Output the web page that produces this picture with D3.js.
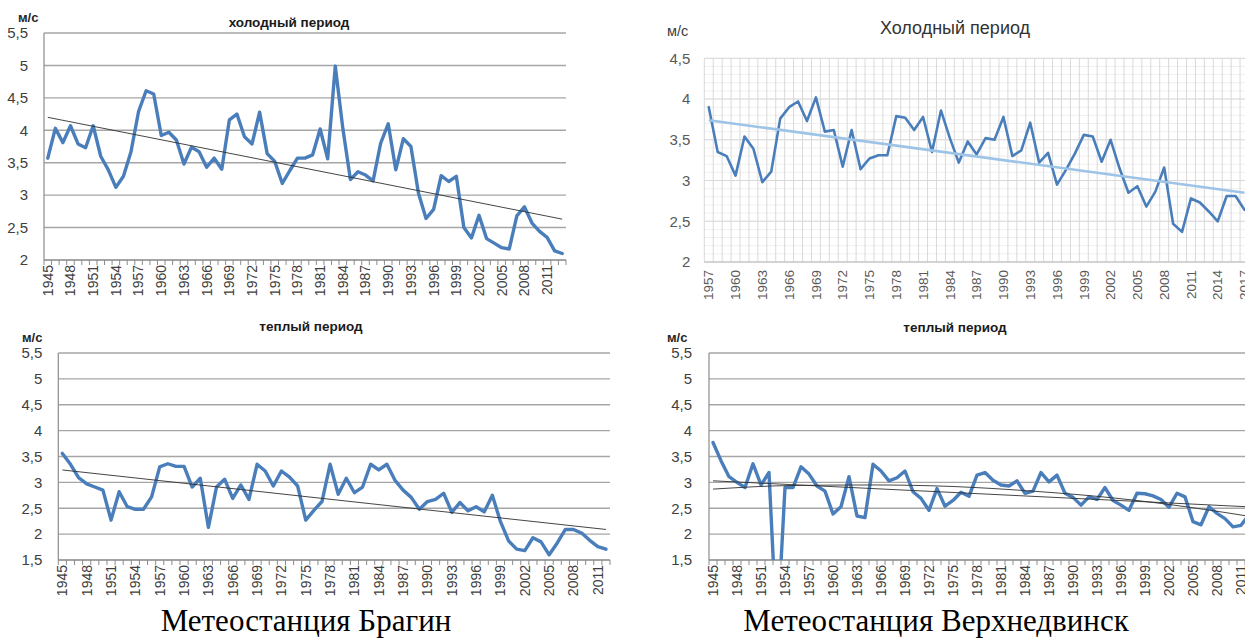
<!DOCTYPE html>
<html>
<head>
<meta charset="utf-8">
<script src="https://cdn.jsdelivr.net/npm/d3@7/dist/d3.min.js"></script>
<style>
  html, body { margin: 0; padding: 0; background: #fff; }
  svg { display: block; }
</style>
</head>
<body>
<script>
// Средняя скорость ветра (м/с) по периодам года, метеостанции Брагин и Верхнедвинск

// Брагин, холодный период
const braginColdYears = d3.range(1945, 2014);
const braginCold = [
  3.57, 4.03, 3.81, 4.07, 3.79, 3.73, 4.07, 3.60, 3.39, 3.12,
  3.29, 3.67, 4.29, 4.61, 4.56, 3.92, 3.97, 3.85, 3.48, 3.74,
  3.67, 3.43, 3.57, 3.40, 4.16, 4.25, 3.90, 3.79, 4.28, 3.64,
  3.52, 3.18, 3.38, 3.57, 3.57, 3.62, 4.02, 3.56, 4.99, 4.03,
  3.24, 3.36, 3.31, 3.22, 3.80, 4.10, 3.39, 3.87, 3.75, 3.03,
  2.64, 2.78, 3.30, 3.21, 3.29, 2.50, 2.34, 2.69, 2.33, 2.26,
  2.19, 2.17, 2.68, 2.82, 2.57, 2.44, 2.35, 2.14, 2.10
];
const braginColdTrend = [4.20, 2.63];          // линейный тренд: первый и последний год

// Верхнедвинск, холодный период
const verkhColdYears = d3.range(1957, 2018);
const verkhCold = [
  3.90, 3.35, 3.30, 3.06, 3.54, 3.39, 2.98, 3.11, 3.76, 3.90,
  3.97, 3.73, 4.02, 3.60, 3.62, 3.17, 3.62, 3.14, 3.27, 3.31,
  3.31, 3.79, 3.77, 3.62, 3.78, 3.35, 3.86, 3.52, 3.22, 3.48,
  3.32, 3.52, 3.50, 3.78, 3.30, 3.37, 3.71, 3.22, 3.34, 2.95,
  3.13, 3.33, 3.56, 3.54, 3.23, 3.50, 3.15, 2.85, 2.93, 2.68,
  2.86, 3.16, 2.47, 2.37, 2.78, 2.73, 2.62, 2.50, 2.81, 2.81,
  2.64
];
const verkhColdTrend = [3.74, 2.85];

// Брагин, теплый период
const braginWarmYears = d3.range(1945, 2013);
const braginWarm = [
  3.56, 3.35, 3.09, 2.97, 2.91, 2.85, 2.27, 2.82, 2.53, 2.48,
  2.48, 2.72, 3.30, 3.36, 3.31, 3.31, 2.91, 3.08, 2.13, 2.91,
  3.06, 2.69, 2.95, 2.67, 3.35, 3.22, 2.93, 3.22, 3.10, 2.93,
  2.27, 2.46, 2.63, 3.35, 2.77, 3.08, 2.80, 2.91, 3.35, 3.24,
  3.35, 3.04, 2.85, 2.71, 2.48, 2.63, 2.67, 2.79, 2.42, 2.61,
  2.45, 2.53, 2.43, 2.75, 2.24, 1.87, 1.71, 1.68, 1.93, 1.85,
  1.60, 1.83, 2.09, 2.09, 2.02, 1.88, 1.76, 1.71
];
const braginWarmTrend = [3.24, 2.09];

// Верхнедвинск, теплый период (1953 г. — 0)
const verkhWarmYears = d3.range(1945, 2014);
const verkhWarm = [
  3.77, 3.42, 3.11, 3.00, 2.90, 3.36, 2.95, 3.19, 0.00, 2.90,
  2.90, 3.30, 3.16, 2.93, 2.83, 2.39, 2.53, 3.11, 2.35, 2.32,
  3.35, 3.22, 3.03, 3.09, 3.22, 2.82, 2.69, 2.46, 2.88, 2.54,
  2.65, 2.81, 2.73, 3.14, 3.19, 3.04, 2.95, 2.93, 3.03, 2.79,
  2.83, 3.19, 3.01, 3.14, 2.79, 2.71, 2.56, 2.72, 2.67, 2.90,
  2.65, 2.56, 2.46, 2.79, 2.78, 2.74, 2.67, 2.52, 2.79, 2.72,
  2.24, 2.18, 2.53, 2.40, 2.30, 2.14, 2.17, 2.37, 2.30
];
const verkhWarmTrend = [3.03, 2.52];
// полиномиальный тренд
const verkhWarmPolyYears = [1945, 1955, 1965, 1975, 1985, 1995, 2005, 2013];
const verkhWarmPoly = [2.87, 2.94, 2.95, 2.92, 2.83, 2.70, 2.51, 2.32];

// деления оси значений
const coldTicksBragin = [2, 2.5, 3, 3.5, 4, 4.5, 5, 5.5];
const coldTicksVerkh = [2, 2.5, 3, 3.5, 4, 4.5];
const warmTicks = [1.5, 2, 2.5, 3, 3.5, 4, 4.5, 5, 5.5];

const unitLabel = "м/с";
const captions = ["Метеостанция Брагин", "Метеостанция Верхнедвинск"];

const W = 1245, H = 638;
const svg = d3.select("body").append("svg")
  .attr("width", W).attr("height", H)
  .attr("viewBox", `0 0 ${W} ${H}`);

const fmt = v => String(v).replace(".", ",");
const sans = "'Liberation Sans', Arial, sans-serif";

let clipId = 0;

function drawPanel(o) {
  const g = svg.append("g");
  const x = d3.scaleBand().domain(o.years).range([o.left, o.right]).padding(0);
  const y = d3.scaleLinear().domain(d3.extent(o.ticks)).range([o.bottom, o.top]);
  const cx = d => x(d) + x.bandwidth() / 2;
  const bounds = o.years.map(d => x(d)).concat([o.right]);
  const modern = o.modern;

  if (modern) {
    // мелкая сетка
    const minor = d3.range(Math.round(o.ticks[0] * 10), Math.round(o.ticks[o.ticks.length - 1] * 10) + 1)
      .map(v => v / 10);
    g.append("g").selectAll("line").data(minor).join("line")
      .attr("x1", o.left).attr("x2", o.right)
      .attr("y1", d => y(d)).attr("y2", d => y(d))
      .attr("stroke", "#efefef").attr("stroke-width", 1);
    g.append("g").selectAll("line").data(bounds).join("line")
      .attr("x1", d => d).attr("x2", d => d)
      .attr("y1", o.top).attr("y2", o.bottom)
      .attr("stroke", "#d9d9d9").attr("stroke-width", 1);
    g.append("g").selectAll("line").data(o.ticks).join("line")
      .attr("x1", o.left).attr("x2", o.right)
      .attr("y1", d => y(d)).attr("y2", d => y(d))
      .attr("stroke", "#d9d9d9").attr("stroke-width", 1);
    g.append("line")
      .attr("x1", o.left).attr("x2", o.right)
      .attr("y1", o.bottom).attr("y2", o.bottom)
      .attr("stroke", "#bfbfbf").attr("stroke-width", 1);
  } else {
    g.append("g").selectAll("line").data(o.ticks).join("line")
      .attr("x1", o.left).attr("x2", o.right)
      .attr("y1", d => y(d)).attr("y2", d => y(d))
      .attr("stroke", "#a6a6a6").attr("stroke-width", 1.4);
    g.append("line")
      .attr("x1", o.left).attr("x2", o.left)
      .attr("y1", o.top).attr("y2", o.bottom)
      .attr("stroke", "#8c8c8c").attr("stroke-width", 1.2);
    g.append("line")
      .attr("x1", o.left).attr("x2", o.right)
      .attr("y1", o.bottom).attr("y2", o.bottom)
      .attr("stroke", "#8c8c8c").attr("stroke-width", 1.2);
    g.append("g").selectAll("line").data(bounds).join("line")
      .attr("x1", d => d).attr("x2", d => d)
      .attr("y1", o.bottom).attr("y2", o.bottom + 5)
      .attr("stroke", "#8c8c8c").attr("stroke-width", 1);
  }

  // ось значений
  const yAxis = d3.axisLeft(y).tickValues(o.ticks).tickFormat(fmt)
    .tickSize(0).tickPadding(o.yPad);
  g.append("g").attr("transform", `translate(${o.left},0)`).call(yAxis)
    .call(s => s.select(".domain").remove())
    .selectAll("text")
    .attr("font-family", sans).attr("font-size", o.yFont)
    .attr("fill", modern ? "#595959" : "#404040");

  // ось годов
  const labelYears = o.years.filter((d, i) => i % 3 === 0);
  const xAxis = d3.axisBottom(x).tickValues(labelYears).tickSize(0).tickPadding(0);
  g.append("g").attr("transform", `translate(0,${o.bottom})`).call(xAxis)
    .call(s => s.select(".domain").remove())
    .selectAll("text")
    .attr("font-family", sans).attr("font-size", o.xFont)
    .attr("fill", modern ? "#595959" : "#404040")
    .attr("transform", "rotate(-90)")
    .attr("x", -o.xPad).attr("y", 0).attr("dy", "0.35em")
    .attr("text-anchor", "end");

  // ряд данных
  const id = "clip" + (clipId++);
  svg.append("clipPath").attr("id", id).append("rect")
    .attr("x", o.left).attr("y", o.top - 10)
    .attr("width", o.right - o.left).attr("height", o.bottom - o.top + 10);
  const plot = g.append("g").attr("clip-path", `url(#${id})`);

  const line = d3.line().x((d, i) => cx(o.years[i])).y(d => y(d));
  plot.append("path").datum(o.values)
    .attr("d", line)
    .attr("fill", "none")
    .attr("stroke", "#4a7ebb")
    .attr("stroke-width", modern ? 2.6 : 3.4)
    .attr("stroke-linejoin", "round")
    .attr("stroke-linecap", "round");

  // линии тренда
  const first = o.years[0], last = o.years[o.years.length - 1];
  plot.append("line")
    .attr("x1", cx(first)).attr("y1", y(o.trend[0]))
    .attr("x2", cx(last)).attr("y2", y(o.trend[1]))
    .attr("stroke", modern ? "#9dc3e6" : "#303030")
    .attr("stroke-width", modern ? 2.6 : 0.9);

  if (o.poly) {
    const pl = d3.line().curve(d3.curveMonotoneX)
      .x((d, i) => cx(o.poly.years[i])).y(d => y(d));
    plot.append("path").datum(o.poly.values)
      .attr("d", pl).attr("fill", "none")
      .attr("stroke", "#303030").attr("stroke-width", 0.9);
  }

  // заголовок и единицы
  g.append("text")
    .attr("x", o.titleX).attr("y", o.titleY)
    .attr("text-anchor", "middle")
    .attr("font-family", sans)
    .attr("font-size", o.titleFont)
    .attr("font-weight", modern ? "normal" : "bold")
    .attr("fill", modern ? "#333" : "#1a1a1a")
    .text(o.title);
  g.append("text")
    .attr("x", o.unitX).attr("y", o.unitY)
    .attr("font-family", sans)
    .attr("font-size", o.unitFont)
    .attr("font-weight", modern ? "normal" : "bold")
    .attr("fill", modern ? "#404040" : "#262626")
    .text(unitLabel);
}

drawPanel({
  years: braginColdYears, values: braginCold, trend: braginColdTrend,
  ticks: coldTicksBragin,
  left: 44, right: 566, top: 33, bottom: 260,
  yPad: 16, yFont: 15, xFont: 14, xPad: 5,
  title: "холодный период", titleX: 289, titleY: 27, titleFont: 13.5,
  unitX: 18, unitY: 22, unitFont: 13
});

drawPanel({
  years: verkhColdYears, values: verkhCold, trend: verkhColdTrend,
  ticks: coldTicksVerkh, modern: true,
  left: 704.3, right: 1249, top: 58.3, bottom: 262,
  yPad: 14, yFont: 15, xFont: 13.5, xPad: 8,
  title: "Холодный период", titleX: 955, titleY: 34, titleFont: 18,
  unitX: 667, unitY: 36, unitFont: 14.5
});

drawPanel({
  years: braginWarmYears, values: braginWarm, trend: braginWarmTrend,
  ticks: warmTicks,
  left: 58.3, right: 610, top: 353, bottom: 560,
  yPad: 16, yFont: 15, xFont: 14, xPad: 5,
  title: "теплый период", titleX: 311, titleY: 331, titleFont: 13.5,
  unitX: 22, unitY: 342, unitFont: 13
});

drawPanel({
  years: verkhWarmYears, values: verkhWarm, trend: verkhWarmTrend,
  poly: { years: verkhWarmPolyYears, values: verkhWarmPoly },
  ticks: warmTicks,
  left: 709, right: 1261, top: 353, bottom: 560,
  yPad: 17, yFont: 15, xFont: 14, xPad: 5,
  title: "теплый период", titleX: 955, titleY: 332, titleFont: 13.5,
  unitX: 667, unitY: 342, unitFont: 13
});

// подписи метеостанций
svg.selectAll("text.caption").data(captions).join("text")
  .attr("class", "caption")
  .attr("x", (d, i) => i === 0 ? 306 : 936)
  .attr("y", 631)
  .attr("text-anchor", "middle")
  .attr("font-family", "'Liberation Serif', 'Times New Roman', serif")
  .attr("font-size", 31)
  .attr("fill", "#000")
  .text(d => d);
</script>
</body>
</html>
